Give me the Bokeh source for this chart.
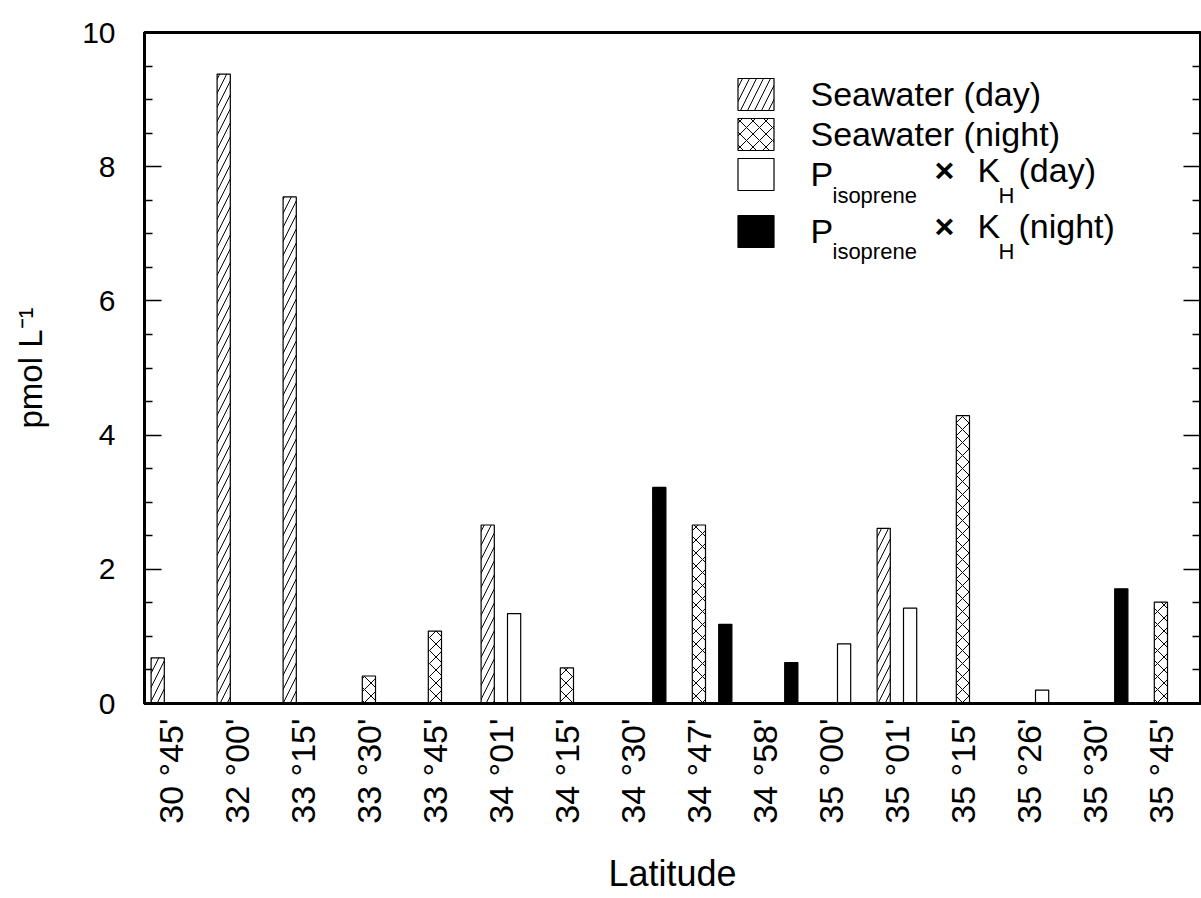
import math
import numpy as np
from bokeh.plotting import figure
from bokeh.models import (ColumnDataSource, Range1d, FixedTicker, LinearAxis,
                          Legend, LegendItem, Label)
from bokeh.transform import dodge
from bokeh.embed import file_html
from bokeh.resources import INLINE

NaN = float("nan")

# ---------------- data ----------------
latitudes = ["30 °45'", "32 °00'", "33 °15'", "33 °30'", "33 °45'", "34 °01'",
             "34 °15'", "34 °30'", "34 °47'", "34 °58'", "35 °00'", "35 °01'",
             "35 °15'", "35 °26'", "35 °30'", "35 °45'"]
seawater_day = [0.68, 9.38, 7.55, NaN, NaN, 2.66, NaN, NaN,
                NaN, NaN, NaN, 2.61, NaN, NaN, NaN, NaN]
seawater_night = [NaN, NaN, NaN, 0.41, 1.08, NaN, 0.53, NaN,
                  2.66, NaN, NaN, NaN, 4.29, NaN, NaN, 1.51]
p_kh_day = [NaN, NaN, NaN, NaN, NaN, 1.34, NaN, NaN,
            NaN, NaN, 0.89, 1.42, NaN, 0.20, NaN, NaN]
p_kh_night = [NaN, NaN, NaN, NaN, NaN, NaN, NaN, 3.22,
              1.18, 0.61, NaN, NaN, NaN, NaN, 1.71, NaN]
y_ticks = [0, 2, 4, 6, 8, 10]

FONT = "Liberation Sans"

src = ColumnDataSource(dict(
    pos=np.arange(len(latitudes), dtype=float),
    day=np.array(seawater_day, dtype=float),
    night=np.array(seawater_night, dtype=float),
    pday=np.array(p_kh_day, dtype=float),
    pnight=np.array(p_kh_night, dtype=float),
))

# ---------------- layout (canvas pixels) ----------------
W, H = 1201, 898
FL, FR, FT, FB = 144, 1200, 32, 703
X0, X1 = -0.4, len(latitudes) - 0.4
Y0, Y1 = 0, 10


def dx(px):
    return X0 + (px - FL) * (X1 - X0) / (FR - FL)


def dy(py):
    return Y0 + (FB - py) * (Y1 - Y0) / (FB - FT)


p = figure(width=W, height=H, output_backend="svg", toolbar_location=None,
           x_range=Range1d(X0, X1), y_range=Range1d(Y0, Y1),
           min_border_left=FL, min_border_right=W - FR,
           min_border_top=FT, min_border_bottom=H - FB)
p.xgrid.visible = False
p.ygrid.visible = False
p.outline_line_color = "black"
p.outline_line_width = 3
p.background_fill_color = "white"
p.border_fill_color = "white"

BW = 0.2
common = dict(source=src, width=BW, line_color="black", line_width=1.2)
r_day = p.vbar(x=dodge("pos", -0.2, range=p.x_range), top="day",
               fill_color="white", hatch_pattern="/", hatch_scale=14,
               hatch_weight=1, hatch_color="black", **common)
r_night = p.vbar(x=dodge("pos", 0.0, range=p.x_range), top="night",
                 fill_color="white", hatch_pattern="x", hatch_scale=13,
                 hatch_weight=1, hatch_color="black", **common)
r_pday = p.vbar(x=dodge("pos", 0.2, range=p.x_range), top="pday",
                fill_color="white", **common)
r_pnight = p.vbar(x=dodge("pos", 0.4, range=p.x_range), top="pnight",
                  fill_color="black", **common)

# ---------------- axes ----------------
xa = p.xaxis[0]
xa.ticker = FixedTicker(ticks=list(range(len(latitudes))), minor_ticks=[])
xa.major_label_overrides = {i: lab for i, lab in enumerate(latitudes)}
xa.major_label_orientation = math.pi / 2
xa.major_label_text_font = FONT
xa.major_label_text_font_size = "34px"
xa.major_label_text_color = "black"
xa.major_label_standoff = 15
xa.major_tick_in = 0
xa.major_tick_out = 0
xa.minor_tick_in = 0
xa.minor_tick_out = 0
xa.axis_line_width = 3
xa.axis_line_color = "black"
xa.axis_label = "Latitude"
xa.axis_label_text_font = FONT
xa.axis_label_text_font_size = "36px"
xa.axis_label_text_font_style = "normal"
xa.axis_label_text_color = "black"
xa.axis_label_standoff = 26

minor = [v / 2 for v in range(0, 21) if v % 4 != 0]
ya = p.yaxis[0]
ya.ticker = FixedTicker(ticks=y_ticks, minor_ticks=minor)
ya.major_label_text_font = FONT
ya.major_label_text_font_size = "30px"
ya.major_label_text_color = "black"
ya.major_label_standoff = 29
ya.major_tick_in = 17
ya.major_tick_out = 0
ya.minor_tick_in = 8
ya.minor_tick_out = 0
ya.major_tick_line_width = 1.5
ya.minor_tick_line_width = 1.5
ya.axis_line_width = 3
ya.axis_line_color = "black"
ya.axis_label = "pmol L\u207b\u00b9"
ya.axis_label_text_font = FONT
ya.axis_label_text_font_size = "33px"
ya.axis_label_text_font_style = "normal"
ya.axis_label_text_color = "black"
ya.axis_label_standoff = 30

ra = LinearAxis(ticker=FixedTicker(ticks=y_ticks, minor_ticks=minor),
                major_tick_in=17, major_tick_out=0, minor_tick_in=8, minor_tick_out=0,
                major_tick_line_width=1.5, minor_tick_line_width=1.5,
                axis_line_width=3, major_label_text_font_size="1px",
                major_label_text_color=None, major_label_standoff=0)
p.add_layout(ra, "right")

# ---------------- legend ----------------
GW, GH = 45, 40          # legend glyph box (glyph is drawn 10 % inset)
LEG_X = 737 - GW * 0.1   # left of the legend box (canvas px)
leg_style = dict(background_fill_alpha=0, border_line_alpha=0, padding=0, margin=0,
                 spacing=0, glyph_width=GW, glyph_height=GH, label_height=GH,
                 label_standoff=33, label_text_font=FONT, label_text_font_size="34px",
                 label_text_color="black")
legA = Legend(items=[LegendItem(label="Seawater (day)", renderers=[r_day]),
                     LegendItem(label="Seawater (night)", renderers=[r_night]),
                     LegendItem(label="P", renderers=[r_pday])],
              location=(LEG_X - FL, FB - (74 + 3 * GH)), **leg_style)
legB = Legend(items=[LegendItem(label="P", renderers=[r_pnight])],
              location=(LEG_X - FL, FB - (211 + GH)), **leg_style)
p.add_layout(legA)
p.add_layout(legB)

for base, word in [(188, "(day)"), (244, "(night)")]:
    sub = base + 19
    p.add_layout(Label(x=dx(832), y=dy(sub), text="isoprene", text_font=FONT,
                       text_font_size="22px", text_color="black"))
    p.add_layout(Label(x=dx(934), y=dy(base), text="×", text_font=FONT,
                       text_font_size="34px", text_font_style="bold", text_color="black"))
    p.add_layout(Label(x=dx(977), y=dy(base), text="K", text_font=FONT,
                       text_font_size="34px", text_color="black"))
    p.add_layout(Label(x=dx(998), y=dy(sub), text="H", text_font=FONT,
                       text_font_size="22px", text_color="black"))
    p.add_layout(Label(x=dx(1018), y=dy(base), text=word, text_font=FONT,
                       text_font_size="34px", text_color="black"))

open("out.html", "w").write(file_html(p, INLINE))
